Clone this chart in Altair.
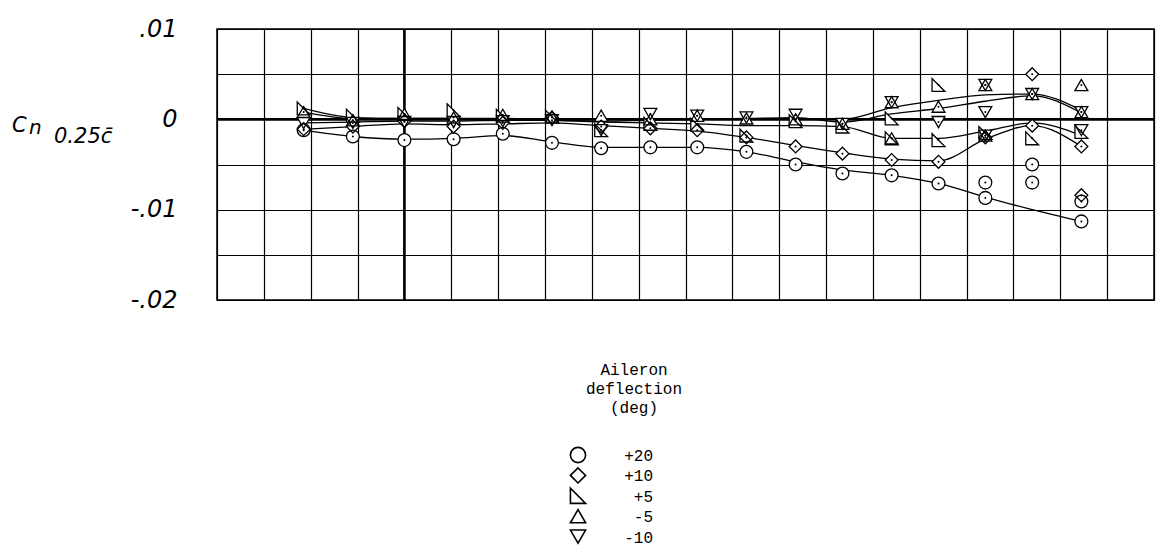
import altair as alt
import pandas as pd

# ---------------- data ----------------
X = [-2.15, -1.1, 0.0, 1.05, 2.1, 3.15, 4.2, 5.25, 6.25, 7.3, 8.35, 9.35, 10.4, 11.4, 12.4, 13.4, 14.45]
SERIES = ["+20", "+10", "+5", "-5", "-10"]

# plotted symbols at X (None = no symbol)
SYM_P20 = [-0.0012, -0.0019, -0.0023, -0.0022, -0.0016, -0.0026, -0.0032, -0.0031, -0.0031, -0.0036, -0.0050, -0.0060, -0.0062, -0.0071, -0.0087, None, -0.0113]
SYM_P10 = [-0.0011, -0.0008, -0.0002, -0.0008, -0.0004, 0.0002, -0.0008, -0.0010, -0.0012, -0.0020, -0.0030, -0.0038, -0.0045, -0.0047, -0.0020, -0.0007, -0.0030]
SYM_P5 = [0.0012, 0.0004, 0.0006, 0.0010, 0.0004, 0.0003, -0.0012, -0.0005, -0.0006, -0.0018, -0.0002, -0.0008, -0.0021, -0.0023, -0.0015, -0.0021, -0.0014]
SYM_M5 = [0.0008, -0.0001, 0.0006, 0.0002, 0.0005, 0.0003, 0.0004, 0.0000, 0.0004, 0.0001, 0.0000, -0.0005, 0.0019, 0.0014, 0.0038, 0.0028, 0.0038]
SYM_M10 = [-0.0004, -0.0004, -0.0003, -0.0003, -0.0002, -0.0001, -0.0012, 0.0006, 0.0004, 0.0002, 0.0005, -0.0005, 0.0019, -0.0003, 0.0008, 0.0028, 0.0008]

# additional (off-curve) symbols
EXTRA_P20_X = [12.4, 13.4, 13.4, 14.45]
EXTRA_P20_Y = [-0.0070, -0.0050, -0.0070, -0.0091]
EXTRA_P10_X = [13.4, 14.45]
EXTRA_P10_Y = [0.0050, -0.0084]
EXTRA_P5_X = [10.4, 11.4]
EXTRA_P5_Y = [0.0001, 0.0038]
EXTRA_M5_X = [10.4, 12.4, 14.45]
EXTRA_M5_Y = [-0.0021, -0.0018, 0.0008]
EXTRA_M10_X = [12.4, 12.4, 14.45]
EXTRA_M10_Y = [0.0038, -0.0018, -0.0012]

# faired curves at X
FAIR_P20 = [-0.0012, -0.0019, -0.0022, -0.0021, -0.0018, -0.0025, -0.0031, -0.0031, -0.0031, -0.0036, -0.0047, -0.0056, -0.0062, -0.0071, -0.0086, -0.0100, -0.0113]
FAIR_P10 = [-0.0011, -0.0008, -0.0005, -0.0006, -0.0005, -0.0004, -0.0007, -0.0010, -0.0013, -0.0020, -0.0029, -0.0037, -0.0044, -0.0046, -0.0022, -0.0007, -0.0030]
FAIR_P5 = [0.0012, 0.0002, 0.0001, 0.0001, 0.0000, -0.0001, -0.0003, -0.0004, -0.0005, -0.0007, -0.0007, -0.0008, -0.0021, -0.0021, -0.0013, -0.0004, -0.0018]
FAIR_M5 = [0.0008, 0.0001, 0.0001, 0.0001, 0.0001, 0.0000, 0.0000, 0.0000, 0.0000, 0.0000, 0.0000, 0.0000, 0.0013, 0.0021, 0.0027, 0.0028, 0.0010]
FAIR_M10 = [-0.0004, -0.0003, -0.0002, -0.0002, -0.0001, -0.0001, -0.0002, -0.0001, 0.0000, 0.0001, 0.0002, -0.0003, 0.0006, 0.0012, 0.0020, 0.0026, 0.0007]

Y_TICKS = [0.01, 0.005, 0.0, -0.005, -0.01, -0.015, -0.02]
X_TICKS = list(range(-4, 17))
LEGEND_TITLE = ["Aileron", "deflection", "(deg)"]

# ---------------- tables ----------------
SYM = [SYM_P20, SYM_P10, SYM_P5, SYM_M5, SYM_M10]
FAIR = [FAIR_P20, FAIR_P10, FAIR_P5, FAIR_M5, FAIR_M10]
EX = [(EXTRA_P20_X, EXTRA_P20_Y), (EXTRA_P10_X, EXTRA_P10_Y), (EXTRA_P5_X, EXTRA_P5_Y),
      (EXTRA_M5_X, EXTRA_M5_Y), (EXTRA_M10_X, EXTRA_M10_Y)]

sym_rows, fair_rows = [], []
for name, vals, fair, (ex, ey) in zip(SERIES, SYM, FAIR, EX):
    for x, y in zip(X, vals):
        if y is not None:
            sym_rows.append({"x": x, "y": y, "series": name})
    for x, y in zip(ex, ey):
        sym_rows.append({"x": x, "y": y, "series": name})
    for x, y in zip(X, fair):
        fair_rows.append({"x": x, "y": y, "series": name})
sym_df = pd.DataFrame(sym_rows)
fair_df = pd.DataFrame(fair_rows)

RTRI = "M-1,-1L-1,1L1,1Z"
SHAPES = ["circle", "diamond", RTRI, "triangle-up", "triangle-down"]

x_scale = alt.Scale(domain=[-4, 16], nice=False, zero=False)
y_scale = alt.Scale(domain=[-0.02, 0.01], nice=False, zero=False)
shape_scale = alt.Scale(domain=SERIES, range=SHAPES)

LBL = ("abs(datum.value-0.01)<1e-9 ? '.01' : abs(datum.value)<1e-9 ? '0' : "
       "abs(datum.value+0.01)<1e-9 ? '-.01' : abs(datum.value+0.02)<1e-9 ? '-.02' : ''")

x_axis = alt.Axis(values=X_TICKS, grid=True, gridColor="black", gridWidth=1.2, gridOpacity=1,
                  labels=False, ticks=False, domain=False, title=None)
y_axis = alt.Axis(values=Y_TICKS, grid=True, gridColor="black", gridWidth=1.2, gridOpacity=1,
                  ticks=False, domain=False, title=None, labelExpr=LBL, labelOverlap=False,
                  labelFont="DejaVu Sans", labelFontStyle="italic", labelFontSize=24,
                  labelColor="black", labelPadding=40, labelBaseline="middle")

xe = alt.X("x:Q", scale=x_scale, axis=x_axis)
ye = alt.Y("y:Q", scale=y_scale, axis=y_axis)

curves = alt.Chart(fair_df).mark_line(interpolate="monotone", color="black", strokeWidth=1.3).encode(
    x=xe, y=ye, detail="series:N", order="x:Q")

zero_df = pd.DataFrame({"x": [0.0], "y": [0.0]})
hzero = alt.Chart(zero_df).mark_rule(color="black", strokeWidth=2.6).encode(y=ye)
vzero = alt.Chart(zero_df).mark_rule(color="black", strokeWidth=2.6).encode(x=xe)

fills = alt.Chart(sym_df).mark_point(filled=True, fill="white", strokeOpacity=0, size=165, opacity=1).encode(
    x=xe, y=ye, shape=alt.Shape("series:N", scale=shape_scale, legend=None))
outlines = alt.Chart(sym_df).mark_point(filled=False, color="black", strokeWidth=1.3, size=165, opacity=1).encode(
    x=xe, y=ye, shape=alt.Shape("series:N", scale=shape_scale, legend=None))
dots = alt.Chart(sym_df).mark_circle(color="black", size=4, opacity=1).encode(x=xe, y=ye)

one = pd.DataFrame({"k": [0]})
OX, OY = 217, 29  # plot origin in the page


def txt(s, px, py, size, font, style="normal", align="left", baseline="alphabetic"):
    return alt.Chart(one).mark_text(text=s, align=align, baseline=baseline, font=font, fontSize=size,
                                    fontStyle=style, color="black").encode(
        x=alt.value(px - OX), y=alt.value(py - OY))


layers = [curves, vzero, hzero, fills, outlines, dots]

# y-axis title  C n 0.25c̄
layers.append(txt("C", 12, 132, 21, "DejaVu Sans", "italic"))
layers.append(txt("n", 29, 134, 20, "DejaVu Sans", "italic"))
layers.append(txt("0.25c\u0304", 54, 143, 21, "DejaVu Sans", "italic"))

# legend
for i, line in enumerate(LEGEND_TITLE):
    layers.append(txt(line, 634, 375 + 19 * i, 16, "Liberation Mono", align="center"))
for i, (name, shp) in enumerate(zip(SERIES, SHAPES)):
    cy = 455 + 20.4 * i
    layers.append(alt.Chart(one).mark_point(shape=shp, filled=False, color="black", strokeWidth=1.6,
                                            size=230, opacity=1).encode(
        x=alt.value(578 - OX), y=alt.value(cy - OY)))
    layers.append(txt(name, 653, cy + 1, 16, "Liberation Mono", align="right", baseline="middle"))

chart = alt.layer(*layers).properties(
    width=937, height=271,
    padding={"left": 217, "top": 29, "right": 10, "bottom": 259},
    autosize="none",
).configure_view(stroke="black", strokeWidth=1.5)

chart.save("out.html", embed_options={"renderer": "svg", "actions": False})
